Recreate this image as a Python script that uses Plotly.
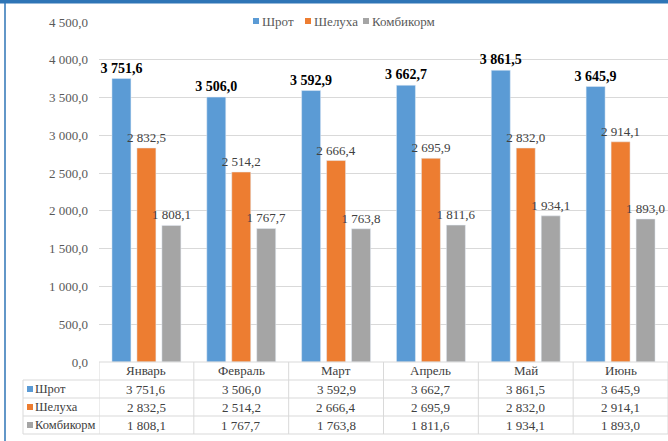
import plotly.graph_objects as go

months = ["Январь", "Февраль", "Март", "Апрель", "Май", "Июнь"]
shrot = [3751.6, 3506.0, 3592.9, 3662.7, 3861.5, 3645.9]
shelukha = [2832.5, 2514.2, 2666.4, 2695.9, 2832.0, 2914.1]
kombikorm = [1808.1, 1767.7, 1763.8, 1811.6, 1934.1, 1893.0]
series_names = ["Шрот", "Шелуха", "Комбикорм"]
series_values = [shrot, shelukha, kombikorm]
colors = ["#5B9BD5", "#ED7D31", "#A5A5A5"]
y_ticks = [0, 500, 1000, 1500, 2000, 2500, 3000, 3500, 4000, 4500]

W, H = 668, 441
L, R, T, B = 99, 0, 22, 79
PW, PH = W - L - R, H - T - B
FONT = "Liberation Serif"
GRID = "#D9D9D9"
TXT = "#404040"


def px_x(p):
    return (p - L) / PW


def px_y(p):
    return (H - B - p) / PH


def fmt(v):
    return f"{v:,.1f}".replace(",", " ").replace(".", ",")


fig = go.Figure()
for i, (name, vals, col) in enumerate(zip(series_names, series_values, colors)):
    bold = i == 0
    fig.add_trace(go.Bar(
        x=months, y=vals, name=name, marker_color=col,
        texttemplate="<b>%{y:,.1f}</b>" if bold else "%{y:,.1f}",
        textposition="outside", cliponaxis=False, constraintext="none",
        textfont=dict(family=FONT, size=14 if bold else 13,
                      color="#000000" if bold else TXT),
        showlegend=False,
    ))

annotations = []
shapes = []


def square(xc, yc, col):
    shapes.append(dict(type="rect", xref="paper", yref="paper",
                       x0=px_x(xc - 3), x1=px_x(xc + 3), y0=px_y(yc + 3), y1=px_y(yc - 3),
                       fillcolor=col, line=dict(width=0), layer="above"))


# legend at top (white background covering gridline)
shapes.append(dict(type="rect", xref="paper", yref="paper", x0=px_x(250), x1=px_x(445),
                   y0=px_y(29), y1=px_y(13), fillcolor="white", line=dict(width=0), layer="above"))
leg_sq = [256, 308, 366]
for n, c, xs in zip(series_names, colors, leg_sq):
    square(xs, 21, c)
    annotations.append(dict(
        xref="paper", yref="paper", x=px_x(xs + 4), y=px_y(21), xanchor="left", yanchor="middle",
        text=n, showarrow=False, font=dict(family=FONT, size=13, color="#595959"),
    ))

row_centers = [389, 407, 425]
for name, vals, col, rc in zip(series_names, series_values, colors, row_centers):
    square(30, rc, col)
    annotations.append(dict(
        xref="paper", yref="paper", x=px_x(33), y=px_y(rc), xanchor="left", yanchor="middle",
        text=name, showarrow=False, font=dict(family=FONT, size=12.5, color=TXT),
    ))
    for m, v in zip(months, vals):
        annotations.append(dict(
            xref="x", yref="paper", x=m, y=px_y(rc), xanchor="center", yanchor="middle",
            text=fmt(v), showarrow=False, font=dict(family=FONT, size=13, color=TXT),
        ))
for m in months:
    annotations.append(dict(
        xref="x", yref="paper", x=m, y=px_y(371), xanchor="center", yanchor="middle",
        text=m, showarrow=False, font=dict(family=FONT, size=13, color=TXT),
    ))

shapes.append(dict(type="rect", xref="paper", yref="paper", x0=px_x(0), x1=px_x(W),
                   y0=px_y(3.5), y1=px_y(0), fillcolor="#2E75B6", line=dict(width=0)))
shapes.append(dict(type="line", xref="paper", yref="paper", x0=px_x(5), x1=px_x(5),
                   y0=px_y(H), y1=px_y(3), line=dict(color="#2E75B6", width=1.5)))
shapes.append(dict(type="line", xref="paper", yref="paper", x0=px_x(99), x1=px_x(W),
                   y0=px_y(362), y1=px_y(362), line=dict(color=GRID, width=1)))
for yy in [380, 398, 416, 434]:
    shapes.append(dict(type="line", xref="paper", yref="paper", x0=px_x(23), x1=px_x(W),
                       y0=px_y(yy), y1=px_y(yy), line=dict(color=GRID, width=1)))
shapes.append(dict(type="line", xref="paper", yref="paper", x0=px_x(23), x1=px_x(23),
                   y0=px_y(380), y1=px_y(434), line=dict(color=GRID, width=1)))
for k in range(len(months) + 1):
    shapes.append(dict(type="line", xref="x", yref="paper", x0=k - 0.5, x1=k - 0.5,
                       y0=px_y(362), y1=px_y(434), line=dict(color=GRID, width=1)))

fig.update_layout(
    width=W, height=H, margin=dict(l=L, r=R, t=T, b=B, autoexpand=False),
    paper_bgcolor="white", plot_bgcolor="white",
    barmode="group", bargap=0.21, bargroupgap=0.24,
    separators=", ",
    font=dict(family=FONT, size=13, color=TXT),
    xaxis=dict(type="category", range=[-0.5, 5.5], showgrid=False, showticklabels=False,
               ticks="", showline=False, zeroline=False),
    yaxis=dict(range=[0, 4500], tickvals=y_ticks, tickformat=",.1f", gridcolor=GRID,
               gridwidth=1, showline=False, zeroline=False, ticks="",
               tickfont=dict(family=FONT, size=13, color="#595959"), ticklabelstandoff=10),
    annotations=annotations, shapes=shapes,
)

fig.write_html("out.html", config={"displayModeBar": False},
               post_script="document.body.style.margin='0';document.body.style.overflow='hidden';")
